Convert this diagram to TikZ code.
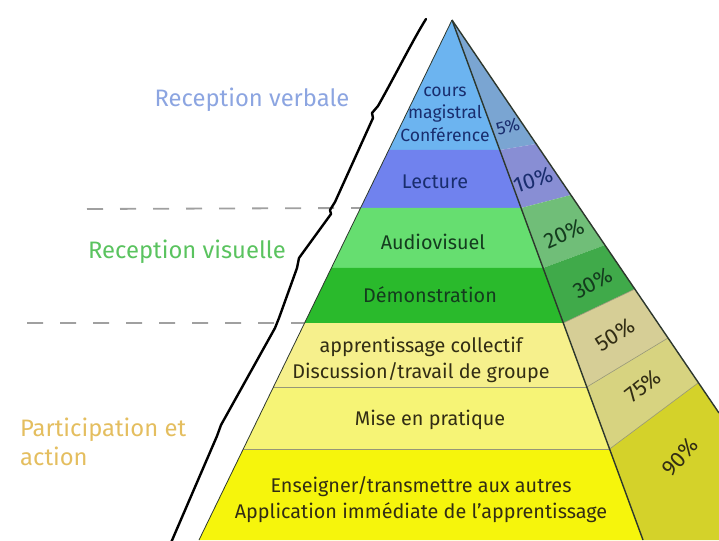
\documentclass[tikz,border=0pt]{standalone}
\usepackage{fontspec}
\setmainfont{Fira Sans}
\usetikzlibrary{calc}
\definecolor{cTop}{RGB}{108,180,240}
\definecolor{cLect}{RGB}{112,130,238}
\definecolor{cAud}{RGB}{102,222,112}
\definecolor{cDem}{RGB}{42,186,44}
\definecolor{cYa}{RGB}{246,240,140}
\definecolor{cYb}{RGB}{246,244,118}
\definecolor{cYc}{RGB}{246,245,12}
\definecolor{rA}{RGB}{122,165,210}
\definecolor{rB}{RGB}{136,142,212}
\definecolor{rC}{RGB}{112,190,120}
\definecolor{rD}{RGB}{64,170,74}
\definecolor{rE}{RGB}{214,206,150}
\definecolor{rF}{RGB}{215,211,128}
\definecolor{rG}{RGB}{212,210,42}
\definecolor{tBlue}{RGB}{25,45,110}
\definecolor{tGreen}{RGB}{20,60,30}
\definecolor{tDark}{RGB}{50,45,20}
\definecolor{lVerb}{RGB}{140,165,225}
\definecolor{lVis}{RGB}{90,195,95}
\definecolor{lPart}{RGB}{228,190,95}
\definecolor{edge}{RGB}{45,55,45}
\tikzset{
  bandtxt/.style={align=center, font=\fontsize{19.8}{26}\selectfont, inner sep=0pt},
  pcttxt/.style={font=\fontsize{22}{24}\selectfont, inner sep=0pt},
  sidelbl/.style={font=\fontsize{23.8}{29}\selectfont, inner sep=0pt},
  dashsep/.style={draw={rgb,255:red,160;green,160;blue,160}, line width=1.8pt, dash pattern=on 16pt off 17pt},
  sepline/.style={draw={rgb,255:red,150;green,150;blue,120}, line width=0.6pt},
  torn/.style={draw=black, line width=2.4pt, line join=round, line cap=round}
}
\begin{document}
\begin{tikzpicture}[x=1pt,y=-1pt]
\useasboundingbox (0,0) rectangle (719,540);
% key points
\coordinate (A) at (452,20);
\coordinate (BL) at (199,540);
\coordinate (BR) at (643,540);
\foreach \n/\t in {1/0.25,2/0.3615,3/0.4769,4/0.5827,5/0.7058,6/0.825}{
  \coordinate (L\n) at ($(A)!\t!(BL)$);
  \coordinate (R\n) at ($(A)!\t!(BR)$);
}
\coordinate (O1) at (536,144);
\coordinate (O2) at (571,195);
\coordinate (O3) at (605,245);
\coordinate (O4) at (635,289);
\coordinate (O5) at (668,338);
\coordinate (O6) at (698,383);
\coordinate (O7) at (719,413);
\coordinate (BX) at (719,540);
% dashed separators
\coordinate (D1) at (87,209);
\coordinate (D2) at (27,323);
\draw[dashsep] (D1) -- (L2);
\draw[dashsep] (D2) -- (L4);
% torn outline
\draw[torn] (426,19) .. controls (414,38) and (396,74) .. (378,106) -- (372,113) -- (373,118)
  -- (335,202) -- (330,210) -- (331,214) -- (299,258) -- (297,268) -- (279,318) -- (275,328)
  -- (221,425) -- (217,436) -- (170,545);
% front bands
\fill[cTop] (A) -- (R1) -- (L1) -- cycle;
\fill[cLect] (L1) -- (R1) -- (R2) -- (L2) -- cycle;
\fill[cAud] (L2) -- (R2) -- (R3) -- (L3) -- cycle;
\fill[cDem] (L3) -- (R3) -- (R4) -- (L4) -- cycle;
\fill[cYa] (L4) -- (R4) -- (R5) -- (L5) -- cycle;
\fill[cYb] (L5) -- (R5) -- (R6) -- (L6) -- cycle;
\fill[cYc] (L6) -- (R6) -- (BR) -- (BL) -- cycle;
% right face bands
\fill[rA] (A) -- (R1) -- (O1) -- cycle;
\fill[rB] (R1) -- (R2) -- (O2) -- (O1) -- cycle;
\fill[rC] (R2) -- (R3) -- (O3) -- (O2) -- cycle;
\fill[rD] (R3) -- (R4) -- (O4) -- (O3) -- cycle;
\fill[rE] (R4) -- (R5) -- (O5) -- (O4) -- cycle;
\fill[rF] (R5) -- (R6) -- (O6) -- (O5) -- cycle;
\fill[rG] (R6) -- (BR) -- (BX) -- (O7) -- (O6) -- cycle;
% separators
\draw[sepline] (L5) -- (R5) (L6) -- (R6);
\draw[sepline] (R4) -- (O4) (R5) -- (O5) (R6) -- (O6);
% outline
\draw[edge, line width=0.8pt] (A) -- (BL);
\draw[edge, line width=1.4pt] (A) -- (BR);
\draw[edge, line width=1.4pt] (A) -- (O7);
% band texts
\node[bandtxt, text=tBlue, font=\fontsize{17.6}{22.5}\selectfont] (t1) at (445,114) {cours\\magistral\\Conférence};
\node[bandtxt, text=tBlue] (t2) at (435,182) {Lecture};
\node[bandtxt, text=tGreen] (t3) at (433,242) {Audiovisuel};
\node[bandtxt, text=tGreen] (t4) at (430,295) {Démonstration};
\node[bandtxt, text=tDark] (t5) at (421,360) {apprentissage collectif\\Discussion/travail de groupe};
\node[bandtxt, text=tDark] (t6) at (430,420) {Mise en pratique};
\node[bandtxt, text=tDark] (t7) at (421,500) {Enseigner/transmettre aux autres\\Application immédiate de l'apprentissage};
% percentages
\node[pcttxt, text=tBlue, rotate=15, font=\fontsize{18}{20}\selectfont] (p1) at (508,127) {5\%};
\node[pcttxt, text=tBlue, rotate=18] (p2) at (533,180) {10\%};
\node[pcttxt, text=tGreen, rotate=24] (p3) at (564,234) {20\%};
\node[pcttxt, text=tGreen, rotate=28] (p4) at (593,283) {30\%};
\node[pcttxt, text=tDark, rotate=32] (p5) at (615,335) {50\%};
\node[pcttxt, text=tDark, rotate=38] (p6) at (643,386) {75\%};
\node[pcttxt, text=tDark, rotate=48] (p7) at (680,457) {90\%};
% side labels
\node[sidelbl, text=lVerb] (s1) at (252,100) {Reception verbale};
\node[sidelbl, text=lVis] (s2) at (187,252) {Reception visuelle};
\node[sidelbl, text=lPart, align=left, anchor=west] (s3) at (20,442) {Participation et\\action};
\end{tikzpicture}
\end{document}
